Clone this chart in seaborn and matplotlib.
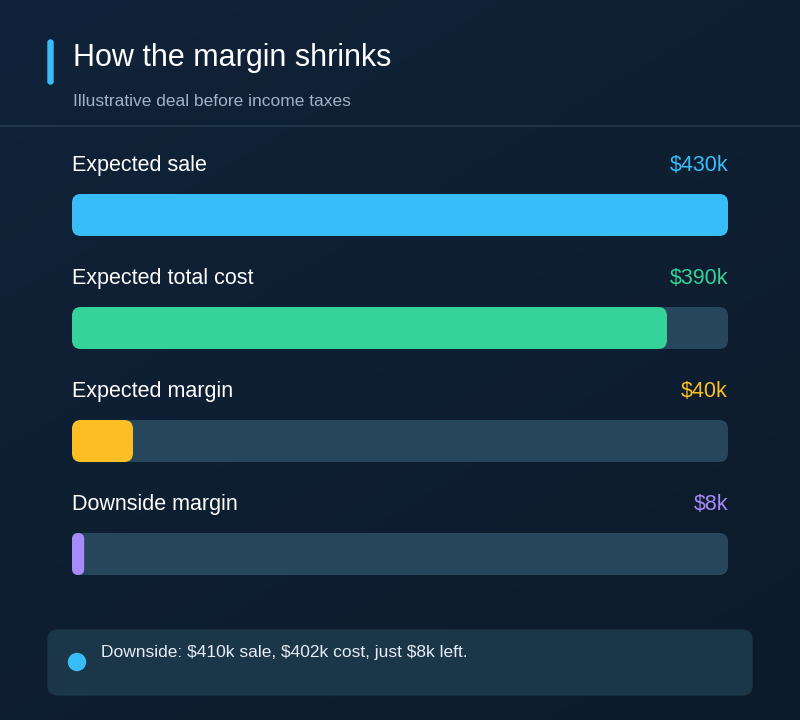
import matplotlib
matplotlib.use("Agg")
import matplotlib.pyplot as plt
import seaborn as sns
import numpy as np
import pandas as pd
from matplotlib.patches import FancyBboxPatch, Circle
from matplotlib.colors import LinearSegmentedColormap

categories = ["Expected sale", "Expected total cost", "Expected margin", "Downside margin"]
values = [430, 390, 40, 8]
value_labels = ["$430k", "$390k", "$40k", "$8k"]
colors = ["#38bdf8", "#34d399", "#fbbf24", "#a78bfa"]
title = "How the margin shrinks"
subtitle = "Illustrative deal before income taxes"
note = "Downside: $410k sale, $402k cost, just $8k left."

sns.set_theme(style="white")
plt.rcParams['font.family'] = ['Liberation Sans', 'DejaVu Sans']

W, H = 800, 720
fig = plt.figure(figsize=(8, 7.2), dpi=100)
bg = fig.add_axes([0, 0, 1, 1])
bg.set_xlim(0, W); bg.set_ylim(H, 0); bg.axis("off")
grad = np.linspace(0, 1, 256).reshape(-1, 1) * np.ones((1, 256))
gx = np.linspace(0, 1, 256).reshape(1, -1)
g = 0.6 * grad + 0.4 * gx
cm = LinearSegmentedColormap.from_list("bg", ["#11233a", "#0c1b2a"])
bg.imshow(g, cmap=cm, extent=[0, W, H, 0], aspect="auto", zorder=0)
bg.add_patch(FancyBboxPatch((48, 40), 5, 44, boxstyle="round,pad=0,rounding_size=2.5", color="#38bdf8", zorder=2))
bg.text(73, 58, title, color="white", fontsize=22, va="center", zorder=3)
bg.text(73, 101, subtitle, color="#9fb3c8", fontsize=12.5, va="center", zorder=3)
bg.plot([0, W], [126, 126], color="#223a4e", lw=1.2, zorder=2)
bg.add_patch(FancyBboxPatch((48, 630), 704, 65, boxstyle="round,pad=0,rounding_size=10", color="#1b3549", zorder=2))
bg.add_patch(Circle((77, 662), 8.5, color="#38bdf8", zorder=3))
bg.text(101, 653, note, color="#e6eef6", fontsize=12.5, va="center", zorder=3)

vmax = values[0]
ax = fig.add_axes([72 / W, 1 - (158.5 + 452) / H, 656 / W, 452 / H])
ax.patch.set_alpha(0)
df = pd.DataFrame({"cat": categories, "val": values, "track": [vmax] * 4})
sns.barplot(data=df, y="cat", x="track", color="#26465b", saturation=1, width=0.372, ax=ax, orient="h")
sns.barplot(data=df, y="cat", x="val", hue="cat", palette=colors, saturation=1, width=0.372, ax=ax, orient="h", legend=False)
ax.set_xlim(0, vmax); ax.set_ylim(3.5, -0.5)
ax.axis("off")

xpp = vmax / 656
ypp = 1 / 113
for p in list(ax.patches):
    x, y, w, h = p.get_x(), p.get_y(), p.get_width(), p.get_height()
    fc = p.get_facecolor()
    p.remove()
    r = min(9 * xpp, w / 2)
    ax.add_patch(FancyBboxPatch((x, y), w, h, boxstyle=f"round,pad=0,rounding_size={r}",
                                mutation_aspect=ypp / xpp, facecolor=fc, edgecolor="none"))

for i, (c, lab, col) in enumerate(zip(categories, value_labels, colors)):
    ax.text(0, i - 0.44, c, color="white", fontsize=15.5, va="center", ha="left")
    ax.text(vmax, i - 0.44, lab, color=col, fontsize=15.5, va="center", ha="right")

fig.savefig("out.png", dpi=100)
